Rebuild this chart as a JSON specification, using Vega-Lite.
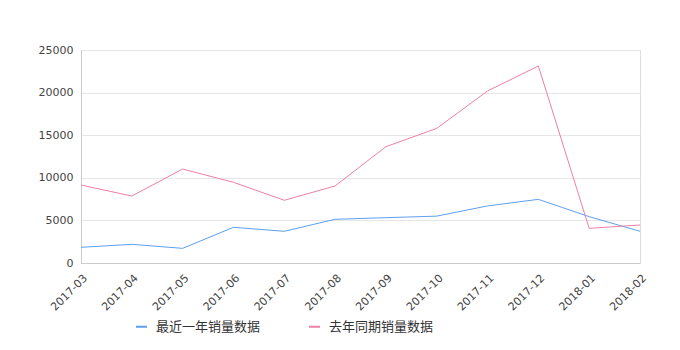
{
  "$schema": "https://vega.github.io/schema/vega-lite/v6.json",
  "autosize": "none",
  "width": 559,
  "height": 213,
  "padding": {"left": 81, "top": 50, "right": 40, "bottom": 87},
  "background": "white",
  "config": {
    "view": {"stroke": "#dddddd", "strokeWidth": 1},
    "font": "DejaVu Sans"
  },
  "data": {
    "values": [
      {"month": "2017-03", "series": "最近一年销量数据", "sales": 1840},
      {"month": "2017-04", "series": "最近一年销量数据", "sales": 2190},
      {"month": "2017-05", "series": "最近一年销量数据", "sales": 1720},
      {"month": "2017-06", "series": "最近一年销量数据", "sales": 4190},
      {"month": "2017-07", "series": "最近一年销量数据", "sales": 3720},
      {"month": "2017-08", "series": "最近一年销量数据", "sales": 5130},
      {"month": "2017-09", "series": "最近一年销量数据", "sales": 5320},
      {"month": "2017-10", "series": "最近一年销量数据", "sales": 5500},
      {"month": "2017-11", "series": "最近一年销量数据", "sales": 6700},
      {"month": "2017-12", "series": "最近一年销量数据", "sales": 7470},
      {"month": "2018-01", "series": "最近一年销量数据", "sales": 5440},
      {"month": "2018-02", "series": "最近一年销量数据", "sales": 3720},
      {"month": "2017-03", "series": "去年同期销量数据", "sales": 9150},
      {"month": "2017-04", "series": "去年同期销量数据", "sales": 7860},
      {"month": "2017-05", "series": "去年同期销量数据", "sales": 11030},
      {"month": "2017-06", "series": "去年同期销量数据", "sales": 9470},
      {"month": "2017-07", "series": "去年同期销量数据", "sales": 7360},
      {"month": "2017-08", "series": "去年同期销量数据", "sales": 9040},
      {"month": "2017-09", "series": "去年同期销量数据", "sales": 13650},
      {"month": "2017-10", "series": "去年同期销量数据", "sales": 15800},
      {"month": "2017-11", "series": "去年同期销量数据", "sales": 20190},
      {"month": "2017-12", "series": "去年同期销量数据", "sales": 23120},
      {"month": "2018-01", "series": "去年同期销量数据", "sales": 4070},
      {"month": "2018-02", "series": "去年同期销量数据", "sales": 4460}
    ]
  },
  "mark": {"type": "line", "strokeWidth": 1},
  "encoding": {
    "x": {
      "field": "month",
      "type": "ordinal",
      "scale": {"type": "point", "padding": 0},
      "axis": {
        "title": null,
        "labelAngle": -45,
        "labelFontSize": 11,
        "labelColor": "#444444",
        "domainColor": "#cccccc",
        "ticks": false,
        "labelPadding": 9,
        "grid": false
      }
    },
    "y": {
      "field": "sales",
      "type": "quantitative",
      "scale": {"domain": [0, 25000]},
      "axis": {
        "title": null,
        "values": [0, 5000, 10000, 15000, 20000, 25000],
        "labelFontSize": 11,
        "labelColor": "#444444",
        "domainColor": "#cccccc",
        "ticks": false,
        "labelPadding": 8,
        "gridColor": "#e6e6e6",
        "format": "d"
      }
    },
    "color": {
      "field": "series",
      "type": "nominal",
      "sort": ["最近一年销量数据", "去年同期销量数据"],
      "scale": {"domain": ["最近一年销量数据", "去年同期销量数据"], "range": ["#5e9ff0", "#ee7fa7"]},
      "legend": {
        "title": null,
        "orient": "none",
        "direction": "horizontal",
        "legendX": 54,
        "legendY": 270,
        "symbolType": "stroke",
        "symbolStrokeWidth": 2,
        "symbolSize": 120,
        "labelFont": "Noto Sans CJK SC",
        "labelFontSize": 13,
        "labelColor": "#333333",
        "columnPadding": 44,
        "labelOffset": 8
      }
    }
  }
}
